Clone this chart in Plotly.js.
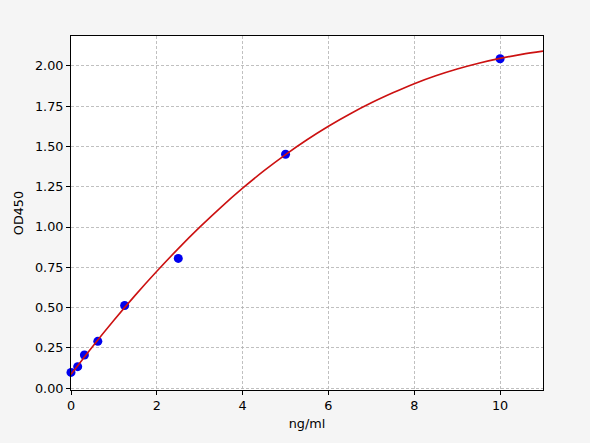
<!DOCTYPE html>
<html>
<head>
<meta charset="utf-8">
<script src="https://cdn.plot.ly/plotly-3.0.1.min.js"></script>
<style>html,body{margin:0;padding:0;background:#f5f5f5;}</style>
</head>
<body>
<div id="chart" style="width:590px;height:443px;"></div>
<script>
// Standard points
const stdConc = [0, 0.156, 0.3125, 0.625, 1.25, 2.5, 5, 10];
const stdOD   = [0.097, 0.133, 0.205, 0.29, 0.513, 0.805, 1.452, 2.045];
// Fitted curve
const fitX = [0, 0.5, 1, 1.5, 2, 2.5, 3, 3.5, 4, 4.5, 5, 5.5, 6, 6.5, 7, 7.5, 8, 8.5, 9, 9.5, 10, 10.5, 11];
const fitY = [0.085, 0.257, 0.421, 0.577, 0.725, 0.866, 0.999, 1.124, 1.241, 1.350, 1.450, 1.542, 1.626, 1.702, 1.771, 1.833, 1.890, 1.939, 1.981, 2.017, 2.047, 2.072, 2.092];
const xTicks = [0, 2, 4, 6, 8, 10];
const yTicks = [0, 0.25, 0.5, 0.75, 1.0, 1.25, 1.5, 1.75, 2.0];

const font = {family: 'DejaVu Sans, sans-serif', size: 12.8, color: '#000'};
const traces = [
  {x: stdConc, y: stdOD, mode: 'markers', type: 'scatter',
   marker: {color: '#0000ee', size: 9}, showlegend: false, cliponaxis: false},
  {x: fitX, y: fitY, mode: 'lines', type: 'scatter',
   line: {color: '#cc1111', width: 1.6, shape: 'spline', smoothing: 1}, showlegend: false}
];
const axisCommon = {
  showline: true, mirror: true, linecolor: '#000', linewidth: 1,
  ticks: 'outside', ticklen: 4, tickcolor: '#000', tickwidth: 1,
  showgrid: true, gridcolor: '#b0b0b0', griddash: '3px,2px', gridwidth: 0.8,
  zeroline: false, tickfont: font
};
const layout = {
  width: 590, height: 443,
  paper_bgcolor: '#f5f5f5', plot_bgcolor: '#ffffff',
  margin: {l: 71, r: 47, t: 36, b: 53},
  font: font,
  xaxis: Object.assign({}, axisCommon, {
    range: [0, 11], tickvals: xTicks, ticktext: xTicks.map(String),
    title: {text: 'ng/ml', font: font, standoff: 6}
  }),
  yaxis: Object.assign({}, axisCommon, {
    range: [-0.012, 2.186], tickvals: yTicks, ticktext: yTicks.map(v => v.toFixed(2)),
    title: {text: 'OD450', font: font, standoff: 8}
  })
};
Plotly.newPlot('chart', traces, layout, {displayModeBar: false, staticPlot: true});
</script>
</body>
</html>
